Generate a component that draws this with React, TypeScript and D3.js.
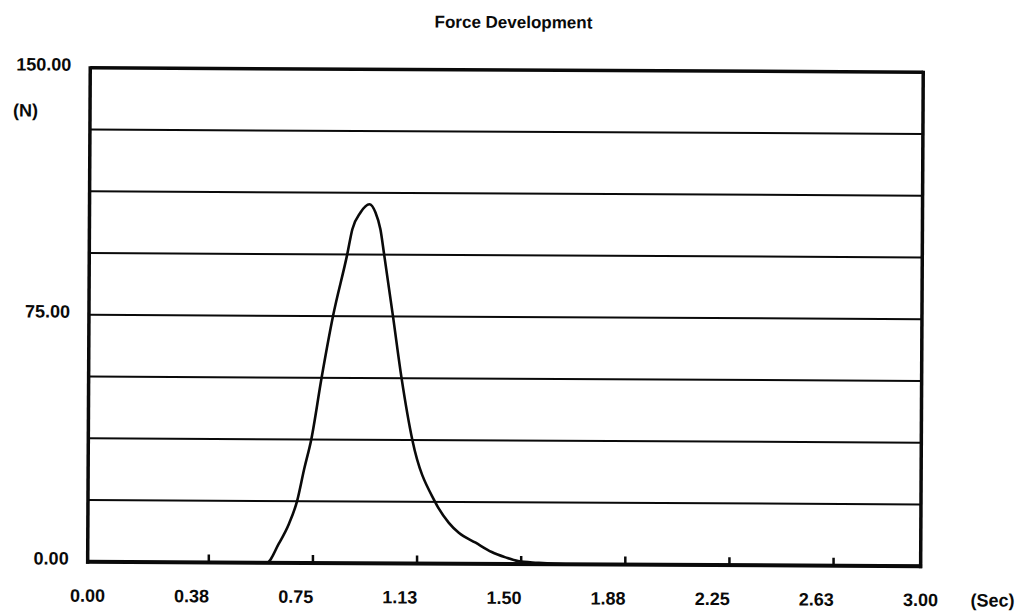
import React from "react";
import * as d3 from "d3";

// Force trace (seconds, newtons)
const timeSec = [0, 0.3, 0.6, 0.645, 0.688, 0.724, 0.753, 0.778, 0.803, 0.839, 0.879, 0.929, 0.947, 0.976, 1.008, 1.03, 1.048, 1.062, 1.095, 1.127, 1.167, 1.25, 1.3, 1.336, 1.397, 1.455, 1.505, 1.55, 1.62, 1.72, 2.0, 3.0];
const forceN = [0, 0, 0, 0, 5.8, 11.8, 18.75, 28.5, 37.5, 56.25, 75, 93.75, 101.4, 106.5, 109, 106.5, 101.4, 93.75, 75, 56.25, 37.5, 18.75, 12.4, 9.4, 6.4, 3.6, 2.0, 0.9, 0.4, 0, 0, 0];

// Axis ticks
const xTickValues = [0, 0.375, 0.75, 1.125, 1.5, 1.875, 2.25, 2.625, 3.0];
const xTickLabels = ["0.00", "0.38", "0.75", "1.13", "1.50", "1.88", "2.25", "2.63", "3.00"];
const yLabelValues = [150, 75, 0];
const yLabelTexts = ["150.00", "75.00", "0.00"];
const gridValues = [18.75, 37.5, 56.25, 75, 93.75, 112.5, 131.25];

const W = 1026;
const H = 616;
const left = 89;
const right = 922;
const top = 70;
const bottom = 564;

export default function App() {
  const x = d3.scaleLinear().domain([0, 3]).range([left, right]);
  const y = d3.scaleLinear().domain([0, 150]).range([bottom, top]);
  const pts = timeSec.map((t, i) => [t, forceN[i]] as [number, number]);
  const line = d3
    .line<[number, number]>()
    .x((d) => x(d[0]))
    .y((d) => y(d[1]))
    .curve(d3.curveMonotoneX);

  const font = "'Liberation Sans', Arial, sans-serif";
  const ink = "#0a0a0a";
  const fs = 18;

  return (
    <svg
      width={W}
      height={H}
      style={{ position: "absolute", left: 0, top: 0, background: "#fff" }}
      fontFamily={font}
    >
      <rect x={0} y={0} width={W} height={H} fill="#fff" />
      <g transform={`rotate(0.3 ${W / 2} ${H / 2})`}>
        <text x={512} y={28} textAnchor="middle" fontSize={17} fontWeight="bold" fill={ink}>
          Force Development
        </text>

        {gridValues.map((v) => (
          <line key={v} x1={left} x2={right} y1={y(v)} y2={y(v)} stroke={ink} strokeWidth={2} />
        ))}

        <path d={line(pts) ?? ""} fill="none" stroke={ink} strokeWidth={2.6} strokeLinejoin="round" />

        {/* frame */}
        <line x1={left} x2={right} y1={top} y2={top} stroke={ink} strokeWidth={3.5} />
        <line x1={left} x2={left} y1={top - 1.5} y2={bottom + 2} stroke={ink} strokeWidth={3.5} />
        <line x1={right} x2={right} y1={top - 1.5} y2={bottom + 2} stroke={ink} strokeWidth={3.5} />
        <line x1={left - 1.5} x2={right + 1.5} y1={bottom} y2={bottom} stroke={ink} strokeWidth={4} />

        {/* tick marks */}
        {xTickValues.slice(1, -1).map((v) => (
          <line
            key={v}
            x1={x(v) + 17}
            x2={x(v) + 17}
            y1={bottom}
            y2={bottom - 8}
            stroke={ink}
            strokeWidth={2.5}
          />
        ))}

        {xTickValues.map((v, i) => (
          <text key={v} x={x(v)} y={604} textAnchor="middle" fontSize={fs} fontWeight="bold" fill={ink}>
            {xTickLabels[i]}
          </text>
        ))}
        <text x={972} y={604} fontSize={fs} fontWeight="bold" fill={ink}>
          (Sec)
        </text>

        {yLabelValues.map((v, i) => (
          <text key={v} x={70} y={y(v) + 3} textAnchor="end" fontSize={fs} fontWeight="bold" fill={ink}>
            {yLabelTexts[i]}
          </text>
        ))}
        <text x={12} y={119} fontSize={fs} fontWeight="bold" fill={ink}>
          (N)
        </text>
      </g>
    </svg>
  );
}
